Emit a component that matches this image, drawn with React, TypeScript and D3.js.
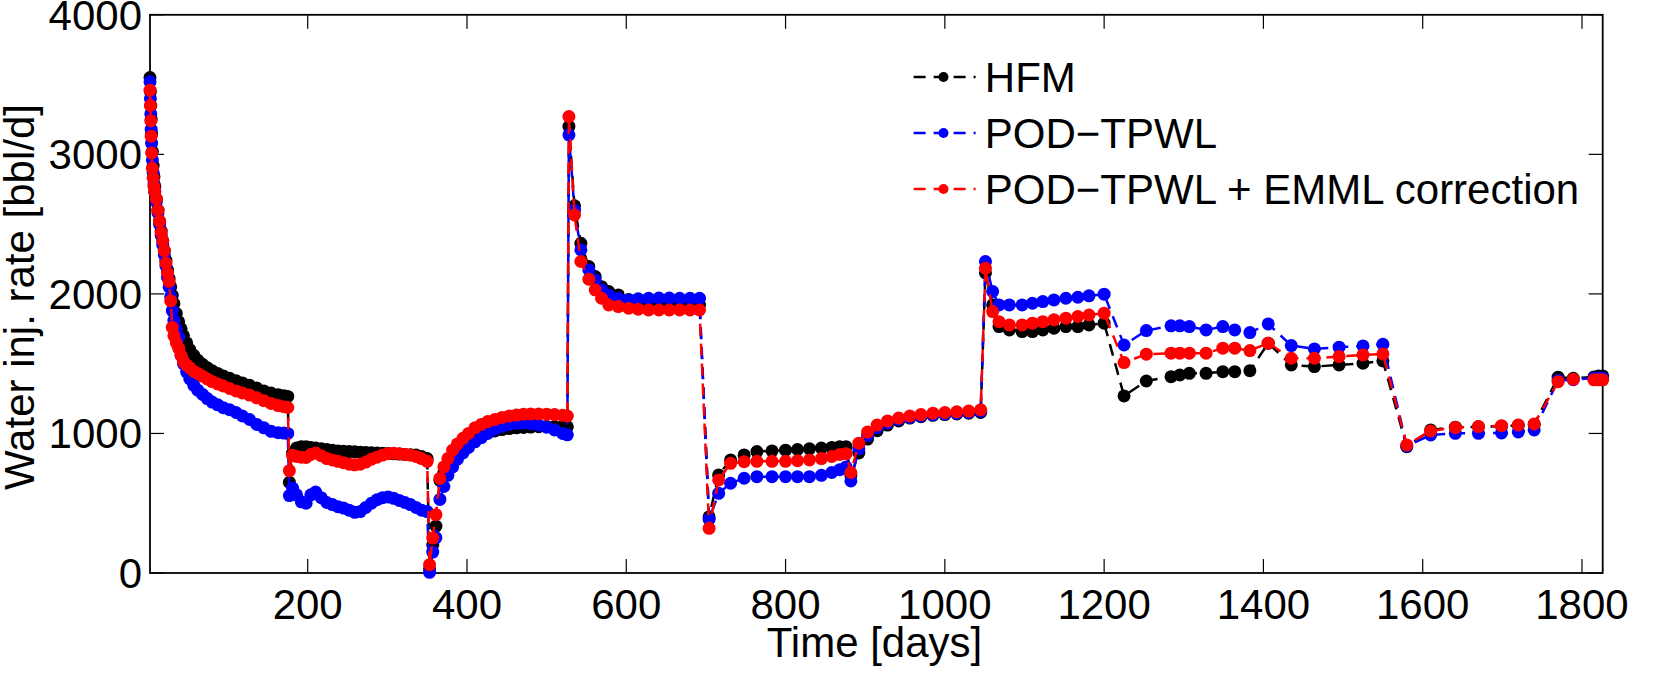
import React, { useEffect, useRef } from 'react';
import { select, scaleLinear, line } from 'd3';

// simulation report times [days]
const days = [
  2, 2.5, 3, 3.5, 4, 5, 6, 7, 8, 10, 12, 14, 16, 18, 20, 22, 24, 26, 28, 30, 32, 35, 38, 41, 44, 48, 52, 57, 62, 68, 74, 80, 87, 94, 102, 110, 118, 127, 136, 145, 154, 163, 170, 175,
  177, 181, 186, 192, 198, 204, 210, 217, 224, 231, 238, 245, 252, 259, 266, 273, 280, 287, 294, 301, 308, 315, 322, 329, 336, 343, 350,
  353, 357, 361, 366, 371, 376, 382, 388, 395, 402, 410, 418, 426, 435, 444, 453, 462, 471, 480, 490, 500, 510, 520, 526,
  528, 535, 543, 553, 561, 569, 578, 590, 603, 615, 628, 641, 654, 667, 680, 692,
  704, 716, 731, 748, 764, 783, 800, 815, 830, 845, 858, 868, 876,
  882, 892, 903, 915, 928, 942, 956, 970, 985, 1000, 1015, 1030, 1045,
  1051, 1060, 1068, 1081, 1097, 1110, 1123, 1137, 1152, 1167, 1181, 1200,
  1225, 1253, 1284, 1295, 1307, 1328, 1349, 1364, 1383,
  1406, 1435, 1464, 1495, 1525, 1550,
  1580, 1610, 1641, 1670, 1699, 1720, 1740,
  1770, 1789, 1815, 1821, 1826,
];

// water injection rate [bbl/d]
const hfm = [
  3550, 3450, 3350, 3250, 3150, 3020, 2920, 2840, 2770, 2680, 2600, 2520, 2450, 2380, 2310, 2240, 2170, 2110, 2050, 1990, 1930, 1860, 1800, 1750, 1700, 1650, 1600, 1560, 1525, 1495, 1470, 1450, 1430, 1412, 1395, 1378, 1362, 1345, 1325, 1305, 1290, 1278, 1270, 1265,
  650, 860, 895, 905, 905, 900, 895, 890, 885, 880, 875, 872, 870, 868, 866, 864, 862, 860, 858, 856, 854, 852, 850, 848, 845, 835, 820,
  30, 200, 336, 664, 720, 770, 820, 860, 900, 935, 965, 990, 1005, 1018, 1028, 1035, 1040, 1043, 1046, 1048, 1050, 1050, 1050, 1048,
  3200, 2631, 2363, 2196, 2124, 2052, 2017, 1993, 1960, 1940, 1930, 1925, 1922, 1920, 1920, 1920,
  403, 703, 810, 846, 870, 875, 880, 885, 890, 895, 900, 905, 905,
  700, 860, 960, 1020, 1060, 1090, 1110, 1120, 1130, 1135, 1140, 1145, 1150,
  2150, 1921, 1766, 1742, 1730, 1730, 1742, 1754, 1766, 1766, 1778, 1790,
  1269, 1376, 1407, 1419, 1431, 1431, 1443, 1443, 1450,
  1647, 1491, 1479, 1491, 1503, 1520,
  905, 1025, 1045, 1048, 1052, 1058, 1065,
  1403, 1395, 1405, 1412, 1412,
];

const podTpwl = [
  3520, 3400, 3290, 3180, 3080, 2960, 2870, 2790, 2730, 2660, 2580, 2500, 2420, 2350, 2280, 2200, 2120, 2050, 1980, 1880, 1810, 1750, 1690, 1560, 1500, 1440, 1390, 1345, 1310, 1280, 1250, 1225, 1205, 1185, 1170, 1150, 1125, 1100, 1065, 1040, 1015, 1005, 1003, 1000,
  555, 609, 560, 510, 500, 560, 580, 540, 505, 490, 475, 465, 450, 435, 440, 470, 500, 525, 540, 545, 535, 520, 505, 490, 470, 450, 440,
  5, 150, 253, 527, 620, 700, 760, 815, 860, 900, 940, 970, 1000, 1030, 1050, 1065, 1072, 1075, 1070, 1060, 1045, 1025, 1000, 990,
  3140, 2600, 2315, 2172, 2100, 2029, 1993, 1969, 1957, 1965, 1968, 1970, 1970, 1968, 1968, 1968,
  385, 571, 643, 679, 690, 690, 690, 690, 690, 700, 720, 740, 760,
  660, 890, 985, 1040, 1075, 1100, 1115, 1125, 1135, 1140, 1145, 1150, 1160,
  2232, 2017, 1921, 1921, 1921, 1933, 1945, 1957, 1969, 1976, 1986, 1998,
  1634, 1737, 1771, 1771, 1766, 1742, 1766, 1742, 1723,
  1785, 1630, 1606, 1618, 1627, 1639,
  910, 989, 1001, 1001, 1004, 1011, 1025,
  1380, 1385, 1398, 1398, 1398,
];

const podTpwlEmml = [
  3460, 3350, 3240, 3130, 3010, 2900, 2830, 2770, 2730, 2680, 2600, 2520, 2440, 2380, 2310, 2220, 2150, 2090, 1950, 1760, 1700, 1650, 1610, 1560, 1515, 1490, 1470, 1445, 1430, 1410, 1390, 1372, 1355, 1340, 1322, 1305, 1290, 1275, 1255, 1235, 1215, 1200, 1192, 1186,
  733, 843, 835, 830, 828, 850, 860, 840, 820, 810, 800, 790, 780, 775, 780, 795, 815, 830, 845, 855, 858, 855, 850, 845, 835, 820, 800,
  60, 250, 418, 678, 760, 820, 880, 925, 965, 1000, 1040, 1065, 1085, 1100, 1115, 1125, 1132, 1138, 1140, 1140, 1138, 1135, 1130, 1125,
  3271, 2566, 2232, 2105, 2029, 1969, 1921, 1909, 1897, 1890, 1885, 1885, 1885, 1885, 1885, 1885,
  320, 667, 786, 798, 800, 800, 800, 805, 810, 820, 835, 850, 855,
  720, 930, 1010, 1060, 1090, 1110, 1125, 1135, 1145, 1150, 1155, 1160, 1170,
  2184, 1873, 1801, 1778, 1778, 1790, 1801, 1814, 1826, 1838, 1849, 1862,
  1508, 1568, 1575, 1575, 1575, 1575, 1611, 1611, 1594,
  1647, 1539, 1539, 1551, 1563, 1570,
  918, 1018, 1042, 1049, 1056, 1061, 1068,
  1371, 1388, 1384, 1384, 1384,
];

const seriesNames = ['HFM', 'POD\u2212TPWL', 'POD\u2212TPWL + EMML correction'];
const seriesColors = ['#000000', '#0000ff', '#ff0000'];
const seriesValues = [hfm, podTpwl, podTpwlEmml];

const xTicks = [200, 400, 600, 800, 1000, 1200, 1400, 1600, 1800];
const yTicks = [0, 1000, 2000, 3000, 4000];

const FONT = '"Liberation Sans", Arial, Helvetica, sans-serif';

function App() {
  const ref = useRef<SVGSVGElement>(null);

  useEffect(() => {
    const svg = select(ref.current);
    svg.selectAll('*').remove();

    // plot box
    const left = 150, right = 1602.7, top = 14.8, bottom = 573;
    const tickLen = 14;
    const fontSize = 42;

    const xScale = scaleLinear().domain([2, 1826]).range([left, right]);
    const yScale = scaleLinear().domain([0, 4000]).range([bottom, top]);

    const g = svg.append('g');

    // ticks on all four sides
    xTicks.forEach(t => {
      const x = xScale(t);
      g.append('line').attr('x1', x).attr('x2', x).attr('y1', bottom).attr('y2', bottom - tickLen)
        .attr('stroke', '#000').attr('stroke-width', 1.2);
      g.append('line').attr('x1', x).attr('x2', x).attr('y1', top).attr('y2', top + tickLen)
        .attr('stroke', '#000').attr('stroke-width', 1.2);
      g.append('text').attr('x', x).attr('y', bottom + 46)
        .attr('text-anchor', 'middle').attr('font-family', FONT).attr('font-size', fontSize)
        .text(t);
    });
    yTicks.forEach(t => {
      const y = yScale(t);
      g.append('line').attr('x1', left).attr('x2', left + tickLen).attr('y1', y).attr('y2', y)
        .attr('stroke', '#000').attr('stroke-width', 1.2);
      g.append('line').attr('x1', right).attr('x2', right - tickLen).attr('y1', y).attr('y2', y)
        .attr('stroke', '#000').attr('stroke-width', 1.2);
      g.append('text').attr('x', left - 8).attr('y', y + 15)
        .attr('text-anchor', 'end').attr('font-family', FONT).attr('font-size', fontSize)
        .text(t);
    });

    g.append('rect').attr('x', left).attr('y', top)
      .attr('width', right - left).attr('height', bottom - top)
      .attr('fill', 'none').attr('stroke', '#000').attr('stroke-width', 1.8);

    // axis labels
    g.append('text').attr('x', 874.5).attr('y', 657)
      .attr('text-anchor', 'middle').attr('font-family', FONT).attr('font-size', fontSize)
      .text('Time [days]');
    g.append('text').attr('transform', 'translate(34, 297) rotate(-90)')
      .attr('text-anchor', 'middle').attr('font-family', FONT).attr('font-size', fontSize)
      .text('Water inj. rate [bbl/d]');

    // series: dashed line with filled circle markers
    const lineGen = line<number>()
      .x((d, i) => xScale(days[i]))
      .y(d => yScale(d));

    seriesValues.forEach((vals, k) => {
      const sg = g.append('g');
      sg.append('path')
        .attr('d', lineGen(vals))
        .attr('fill', 'none')
        .attr('stroke', seriesColors[k])
        .attr('stroke-width', 2.5)
        .attr('stroke-dasharray', '12,8');
      sg.selectAll('circle').data(vals).enter().append('circle')
        .attr('cx', (d, i) => xScale(days[i]))
        .attr('cy', d => yScale(d))
        .attr('r', 6.5)
        .attr('fill', seriesColors[k]);
    });

    // legend
    const lg = g.append('g');
    seriesNames.forEach((name, k) => {
      const base = 92 + k * 56;
      const ly = base - 15;
      lg.append('line').attr('x1', 913.6).attr('x2', 975.6).attr('y1', ly).attr('y2', ly)
        .attr('stroke', seriesColors[k]).attr('stroke-width', 2.5).attr('stroke-dasharray', '12,8');
      lg.append('circle').attr('cx', 943.5).attr('cy', ly).attr('r', 5).attr('fill', seriesColors[k]);
      lg.append('text').attr('x', 984.8).attr('y', base)
        .attr('font-family', FONT).attr('font-size', fontSize)
        .text(name);
    });
  }, []);

  return (
    <svg
      ref={ref}
      width={1653}
      height={684}
      style={{ position: 'absolute', left: 0, top: 0, background: '#fff' }}
    />
  );
}

export default App;
